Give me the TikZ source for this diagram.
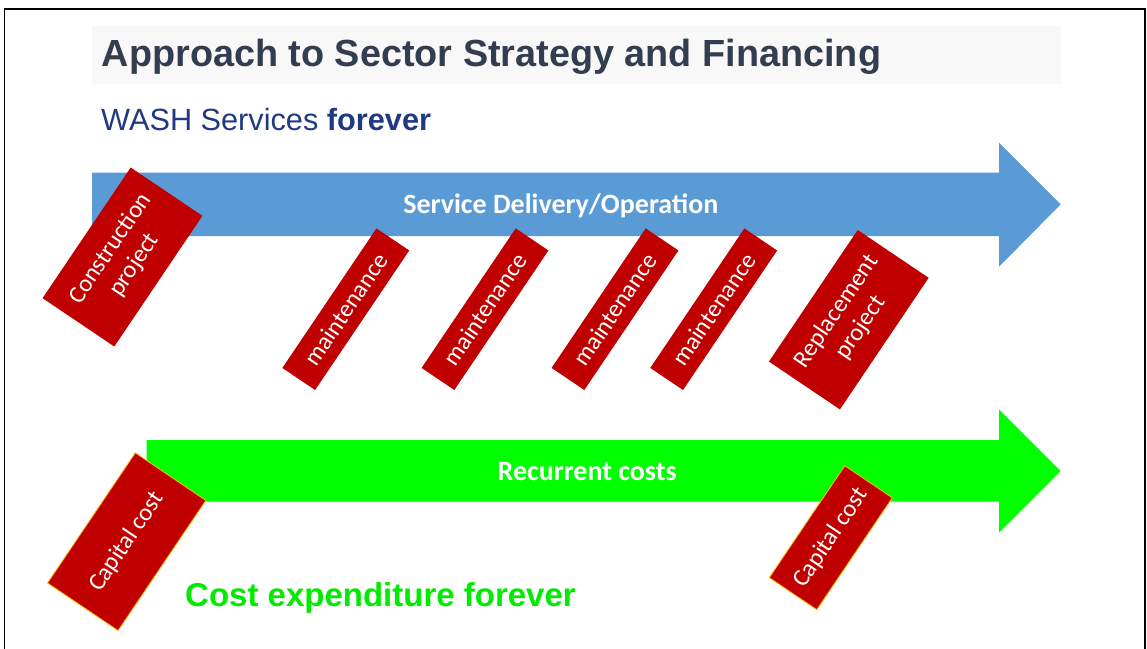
\documentclass[tikz,border=0pt]{standalone}
\usepackage{fontspec}
\setmainfont{Liberation Sans}
\newfontfamily\calibri{Carlito}
\usetikzlibrary{positioning}

\definecolor{bandgray}{RGB}{248,248,248}
\definecolor{titleslate}{RGB}{50,62,80}
\definecolor{washblue}{RGB}{32,58,130}
\definecolor{servblue}{RGB}{91,155,213}
\definecolor{costgreen}{RGB}{0,255,0}
\definecolor{boxred}{RGB}{192,0,0}
\definecolor{capedge}{RGB}{255,190,0}

\tikzset{
  redbox/.style={fill=boxred, text=white, rotate=56, inner sep=0pt, align=center,
    font=\calibri\fontsize{24.5}{29}\selectfont},
  capbox/.style={redbox, draw=capedge, line width=0.8pt},
  arrowlabel/.style={text=white, inner sep=0pt, anchor=base,
    font=\calibri\bfseries\fontsize{28}{30}\selectfont}
}

\begin{document}
\begin{tikzpicture}[x=1pt,y=-1pt]
\useasboundingbox (0,0) rectangle (1147,648);
\fill[white] (0,0) rectangle (1147,648);
\draw[line width=1.5pt] (4.7,700) -- (4.7,9) -- (1145,9) -- (1145,700);

% heading
\fill[bandgray] (92,26) rectangle (1060.7,84);
\node[anchor=base west, inner sep=0pt, text=titleslate,
  font=\bfseries\fontsize{37.8}{40}\selectfont] (title) at (101.7,66.7)
  {Approach to Sector Strategy and Financing};
\node[anchor=base west, inner sep=0pt, text=washblue,
  font=\fontsize{30.7}{32}\selectfont] (wash) at (101,130.5)
  {WASH Services \textbf{forever}};

% the two arrows
\fill[servblue] (92,172.7) -- (999,172.7) -- (999,142.7) -- (1060.7,204.3)
  -- (999,266.7) -- (999,236) -- (92,236) -- cycle;
\node[arrowlabel] (service) at (560.9,213) {Service Delivery/Operation};
\fill[costgreen] (146.7,440) -- (999,440) -- (999,409.3) -- (1060.7,471)
  -- (999,532.7) -- (999,501.7) -- (146.7,501.7) -- cycle;
\node[arrowlabel] (recur) at (587.2,480) {Recurrent costs};

% red boxes
\node[redbox, minimum width=157.6pt, minimum height=86.5pt] (construct)
  at (122.5,257) {Construction\\project};
\foreach \x [count=\i] in {345.8,485,615,713.7}
  \node[redbox, minimum width=168.3pt, minimum height=39.5pt] (maint\i)
    at (\x,309.2) {maintenance};
\node[redbox, minimum width=158.7pt, minimum height=85.6pt] (replace)
  at (848.8,319.7) {Replacement\\project};
\node[capbox, minimum width=157pt, minimum height=85.1pt] (capital1)
  at (126.7,541.7) {Capital cost};
\node[capbox, minimum width=135pt, minimum height=57.3pt] (capital2)
  at (830.8,537.7) {Capital cost};

\node[anchor=base west, inner sep=0pt, text=costgreen!92!black,
  font=\bfseries\fontsize{33}{35}\selectfont] (costfor) at (185,606.7)
  {Cost expenditure forever};
\end{tikzpicture}
\end{document}
